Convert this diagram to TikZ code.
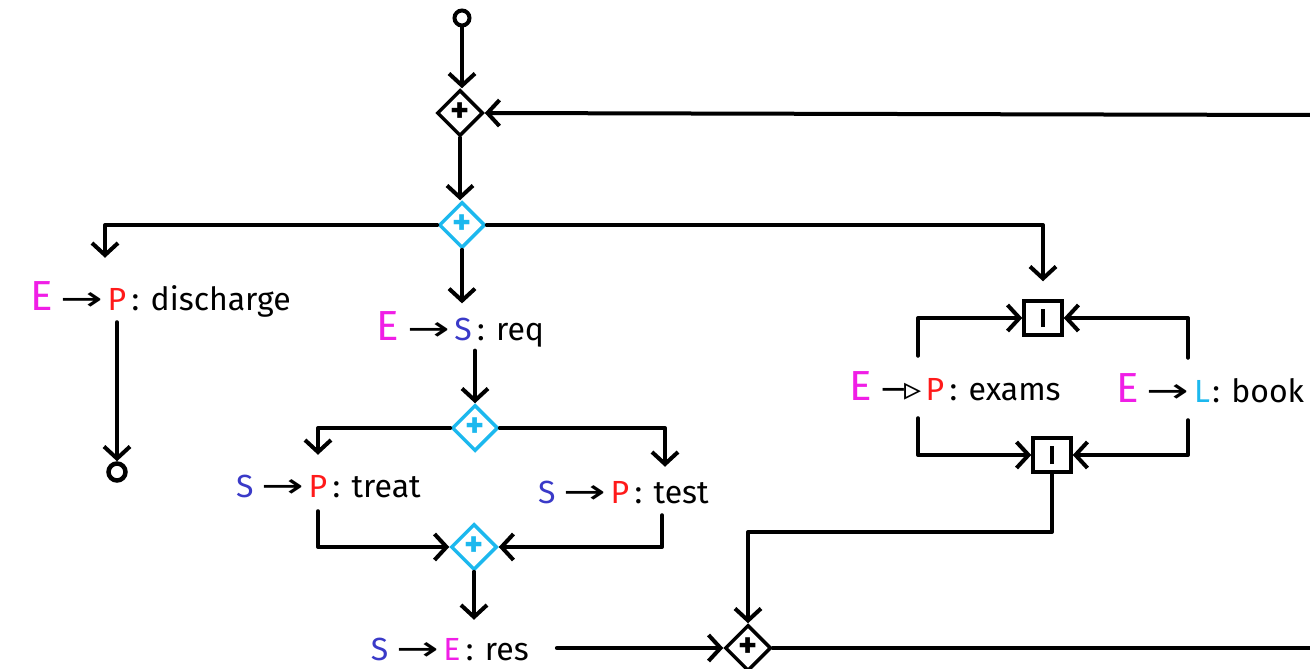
\documentclass[tikz,border=0pt]{standalone}
\usepackage{fontspec}
\setmainfont{Fira Sans}
\newfontfamily\arrowfont{DejaVu Sans}
\usetikzlibrary{arrows.meta,shapes.geometric,positioning}
\definecolor{emag}{HTML}{F01EE6}
\definecolor{pred}{HTML}{FF1A1A}
\definecolor{sblue}{HTML}{3A3AC8}
\definecolor{gcyan}{HTML}{1CB8EE}
\newcommand{\ra}{\hspace{8pt}{\arrowfont\fontsize{34}{34}\selectfont\scalebox{1.5}[1]{→}}}
\newcommand{\tra}{\hspace{8pt}{\arrowfont\fontsize{34}{34}\selectfont −\kern-4pt▹}}
\newcommand{\bigE}{\textcolor{emag}{\fontsize{42}{44}\selectfont E}}
\newcommand{\smS}{\textcolor{sblue}{S}}

\tikzset{
  flow/.style={line width=4pt, line cap=round, line join=round},
  go/.style={flow, -{Straight Barb[length=12pt,width=26pt]}},
  gate/.style={diamond, draw, line width=3.5pt, minimum size=46pt, inner sep=0pt,
    font=\bfseries\fontsize{36}{36}\selectfont},
  cgate/.style={gate, draw=gcyan, text=gcyan},
  joinbox/.style={rectangle, draw, line width=3.5pt, minimum width=38pt, minimum height=34pt, inner sep=0pt},
  startend/.style={circle, draw, line width=4pt, inner sep=0pt},
  role/.style={inner sep=0pt, anchor=base, font=\fontsize{32}{36}\selectfont}
}

\begin{document}
\begin{tikzpicture}[x=1pt,y=-1pt]
\useasboundingbox (0,0) rectangle (1310,669);

% events and gateways
\node[startend, minimum size=15pt] (st) at (462,18) {};
\node[gate] (g1) at (460,113) {+};
\node[cgate] (g2) at (462,225) {+};
\node[cgate] (g3) at (475,428) {+};
\node[cgate] (g4) at (474,547) {+};
\node[gate] (g5) at (748,648) {+};
\node[joinbox] (j1) at (1043,318) {\rule{4pt}{18pt}};
\node[joinbox] (j2) at (1052,455) {\rule{4pt}{18pt}};
\node[startend, line width=4.5pt, minimum size=17pt] (en) at (117,472) {};
\coordinate (inR) at (1310,115);
\coordinate (outR) at (1310,648);
\coordinate (jb) at (748,532);

% interactions
\node[role,pred] (disP) at (117,310) {P};
\node[role,base left=4pt of disP] (disL) {\bigE\ra};
\node[role,base right=5pt of disP] (disR) {: discharge};

\node[role,sblue] (reqS) at (463,340) {S};
\node[role,base left=4pt of reqS] (reqL) {\bigE\ra};
\node[role,base right=5pt of reqS] (reqR) {: req};

\node[role,pred] (treatP) at (318,497) {P};
\node[role,base left=4pt of treatP] (treatL) {\smS\ra};
\node[role,base right=5pt of treatP] (treatR) {: treat};

\node[role,pred] (testP) at (620,503) {P};
\node[role,base left=4pt of testP] (testL) {\smS\ra};
\node[role,base right=5pt of testP] (testR) {: test};

\node[role,emag] (resE) at (452,660) {E};
\node[role,base left=4pt of resE] (resL) {\smS\ra};
\node[role,base right=5pt of resE] (resR) {: res};

\node[role,pred] (exP) at (935,400) {P};
\node[role,base left=4pt of exP] (exL) {\bigE\tra};
\node[role,base right=5pt of exP] (exR) {: exams};

\node[role,gcyan] (bookL) at (1202,402) {L};
\node[role,base left=4pt of bookL] (bookLL) {\bigE\ra};
\node[role,base right=2pt of bookL] (bookR) {: book};

% flows
\draw[go] (st) -- (st |- g1.north);
\draw[go] (inR) -- (g1.east);
\draw[go] (g1) -- (g1 |- g2.north);
\draw[go, shorten >=30pt] (g2.west) -| ([xshift=-12pt]disP.north);
\draw[go, shorten >=18pt] (g2.east) -| (j1.north);
\draw[go, shorten >=14pt] (g2) -- (g2 |- reqS.north);
\draw[go, shorten <=12pt] (disP.south) -- (en.north);
\draw[go, shorten <=10pt] (g3 |- reqS.south) -- (g3.north);
\draw[go, shorten >=20pt] (g3.west) -| (treatP.north);
\draw[go, shorten >=14pt] (g3.east) -| ([xshift=45pt]testP.north);
\draw[go, shorten <=14pt] (treatP.south) |- (g4.west);
\draw[go, shorten <=12pt] ([xshift=42pt]testP.south) |- (g4.east);
\draw[go, shorten >=18pt] (g4) -- (g4 |- resE.north);
\draw[go, shorten <=28pt] (resR.east |- g5.west) -- (g5.west);
\draw[go] (j2.south) |- (jb) -- (g5.north);
\draw[flow] (g5.east) -- (outR);
\draw[go, shorten <=22pt] ([xshift=-17pt]exP.north) |- (j1.west);
\draw[go, shorten <=22pt] ([xshift=-14pt]bookL.north) |- (j1.east);
\draw[go, shorten <=18pt] ([xshift=-17pt]exP.south) |- (j2.west);
\draw[go, shorten <=18pt] ([xshift=-14pt]bookL.south) |- (j2.east);
\end{tikzpicture}
\end{document}
